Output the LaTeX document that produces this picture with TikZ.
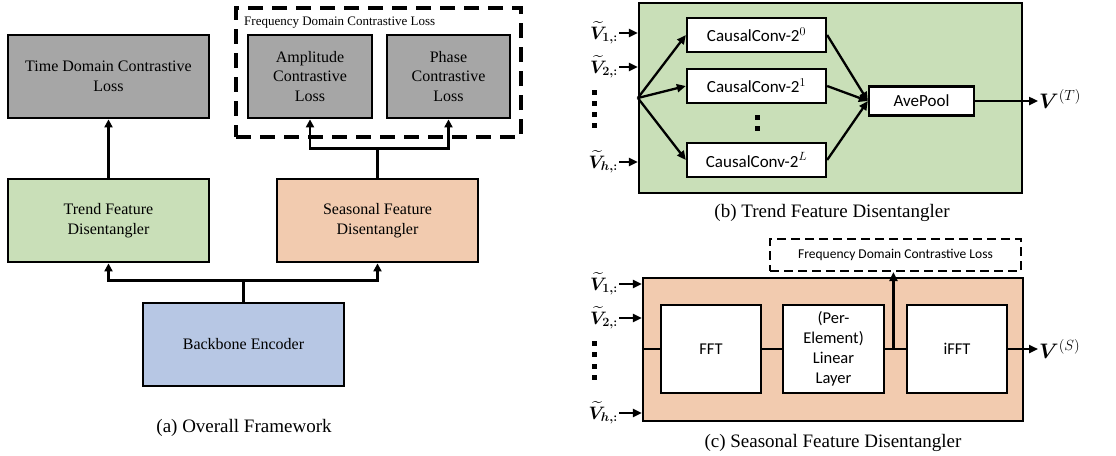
\documentclass[tikz,border=0pt]{standalone}
\usepackage{fix-cm}
\usepackage{amsmath,amssymb}
\usepackage{fontspec}
\setmainfont{Liberation Serif}
\newfontfamily\calfont{Carlito}
\usetikzlibrary{arrows.meta,calc}
\usepackage{xcolor}
\definecolor{lossgrey}{HTML}{A6A6A6}
\definecolor{trendgreen}{HTML}{C9DFB8}
\definecolor{seasorange}{HTML}{F2CBAF}
\definecolor{encblue}{HTML}{B7C7E4}

\begin{document}
\begin{tikzpicture}[x=1pt, y=-1pt,
    abox/.style={draw, line width=2.8pt, minimum width=201pt, minimum height=83pt, align=center, inner sep=2pt, font=\fontsize{16}{19.5}\selectfont},
    bbox/.style={draw, line width=2.3pt},
    cbox/.style={draw, fill=white, line width=2.3pt, minimum width=139pt, minimum height=34pt, inner sep=1pt, font=\calfont\fontsize{17}{20}\selectfont},
    fbox/.style={draw, fill=white, line width=2.3pt, minimum width=100pt, minimum height=88pt, align=center, inner sep=1pt, font=\calfont\fontsize{16.5}{20}\selectfont},
    arra/.style={line width=2.8pt, -{Triangle[length=8pt,width=8pt]}},
    arr/.style={line width=2.3pt, -{Triangle[length=9pt,width=8pt]}},
    capt/.style={font=\fontsize{19}{22}\selectfont},
    vin/.style={inner sep=1pt, font=\fontsize{18}{20}\selectfont},
    vout/.style={inner sep=1pt, font=\fontsize{21}{24}\selectfont}]
  \useasboundingbox (0,0) rectangle (1116,455);

  % (a) overall framework
  \node[draw, line width=3.2pt, dash pattern=on 15pt off 9pt, minimum width=285pt, minimum height=129pt] (fdla) at (378.5,72.5) {};
  \node[anchor=west, inner sep=0pt, font=\fontsize{13}{15}\selectfont] (fdlatext) at (244,23) {Frequency Domain Contrastive Loss};
  \node[abox, fill=lossgrey] (tdl) at (108.5,76.5) {Time Domain Contrastive\\Loss};
  \node[abox, fill=lossgrey, minimum width=124pt] (amp) at (310,76.5) {Amplitude\\Contrastive\\Loss};
  \node[abox, fill=lossgrey, minimum width=123pt] (pha) at (448.5,76.5) {Phase\\Contrastive\\Loss};
  \node[abox, fill=trendgreen] (tfd) at (108.5,220.5) {Trend Feature\\Disentangler};
  \node[abox, fill=seasorange] (sfd) at (377.5,220.5) {Seasonal Feature\\Disentangler};
  \node[abox, fill=encblue] (enc) at (243.5,344.5) {Backbone Encoder};
  \node[capt] (capa) at (244,428) {(a) Overall Framework};

  \draw[arra] (tfd.north) -- (tdl.south);
  \draw[arra] (enc.north) -- ++(0,-21) -| (tfd.south);
  \draw[arra] (enc.north) -- ++(0,-21) -| (sfd.south);
  \draw[arra] (sfd.north) -- ++(0,-29) -| (amp.south);
  \draw[arra] (sfd.north) -- ++(0,-29) -| (pha.south);

  % (b) trend feature disentangler
  \node[bbox, fill=trendgreen, minimum width=383pt, minimum height=190pt] (tfdb) at (830.5,98) {};
  \node[cbox] (cc0) at (756.5,35) {CausalConv-2$^{0}$};
  \node[cbox] (cc1) at (756.5,86) {CausalConv-2$^{1}$};
  \node[cbox] (ccl) at (756.5,160) {CausalConv-2$^{L}$};
  \node[cbox, minimum width=105pt, minimum height=29pt] (pool) at (921.5,101) {AvePool};
  \node[vout, anchor=west] (vt) at (1038,99) {$\boldsymbol{V}^{(T)}$};
  \foreach \c in {cc0,cc1,ccl} {
    \draw[arr] (tfdb.west) -- (\c.west);
    \draw[arr] (\c.east) -- (pool.west);
  }
  \draw[arr] (pool.east) -- (pool.east -| vt.west);
  \foreach \y in {117,128}
    \fill[shift={(757,\y)}] (-2.5,-2.5) rectangle (2.5,2.5);

  \node[vin, anchor=east] (b1) at (619,33) {$\boldsymbol{\widetilde{V}_{1,:}}$};
  \node[vin, anchor=east] (b2) at (619,67) {$\boldsymbol{\widetilde{V}_{2,:}}$};
  \node[vin, anchor=east] (bh) at (619,162) {$\boldsymbol{\widetilde{V}_{h,:}}$};
  \foreach \b in {b1,b2,bh}
    \draw[arr] (\b.east) -- (\b.east -| tfdb.west);
  \foreach \y in {92,103,114,125}
    \fill[shift={(594,\y)}] (-2.5,-2.5) rectangle (2.5,2.5);
  \node[capt] (capb) at (832,213) {(b) Trend Feature Disentangler};

  % (c) seasonal feature disentangler
  \node[bbox, fill=seasorange, minimum width=380pt, minimum height=143pt] (sfdb) at (833,349.5) {};
  \node[draw, line width=2.2pt, dash pattern=on 9pt off 5pt, minimum width=251pt, minimum height=32pt, font=\calfont\fontsize{13.5}{16}\selectfont] (fdlc) at (895.5,255) {Frequency Domain Contrastive Loss};
  \node[fbox] (fft) at (711,349) {FFT};
  \node[fbox, minimum width=101pt] (lin) at (833.5,349) {(Per-\\Element)\\Linear\\Layer};
  \node[fbox] (ifft) at (957,349) {iFFT};
  \node[vout, anchor=west] (vs) at (1038,349) {$\boldsymbol{V}^{(S)}$};
  \coordinate (ljunc) at ($(lin.east)!0.4!(ifft.west)$);
  \draw[line width=2.3pt] (sfdb.west |- fft.west) -- (fft.west);
  \draw[line width=2.3pt] (fft.east) -- (lin.west);
  \draw[line width=2.3pt] (lin.east) -- (ifft.west);
  \draw[arr] (ljunc) -- (ljunc |- fdlc.south);
  \draw[arr] (ifft.east) -- (ifft.east -| vs.west);

  \node[vin, anchor=east] (c1) at (619,284) {$\boldsymbol{\widetilde{V}_{1,:}}$};
  \node[vin, anchor=east] (c2) at (619,318) {$\boldsymbol{\widetilde{V}_{2,:}}$};
  \node[vin, anchor=east] (ch) at (619,413) {$\boldsymbol{\widetilde{V}_{h,:}}$};
  \foreach \c in {c1,c2,ch}
    \draw[arr] (\c.east) -- (\c.east -| sfdb.west);
  \foreach \y in {343,354,366,377}
    \fill[shift={(594,\y)}] (-2.5,-2.5) rectangle (2.5,2.5);
  \node[capt] (capc) at (833,443) {(c) Seasonal Feature Disentangler};
\end{tikzpicture}
\end{document}
